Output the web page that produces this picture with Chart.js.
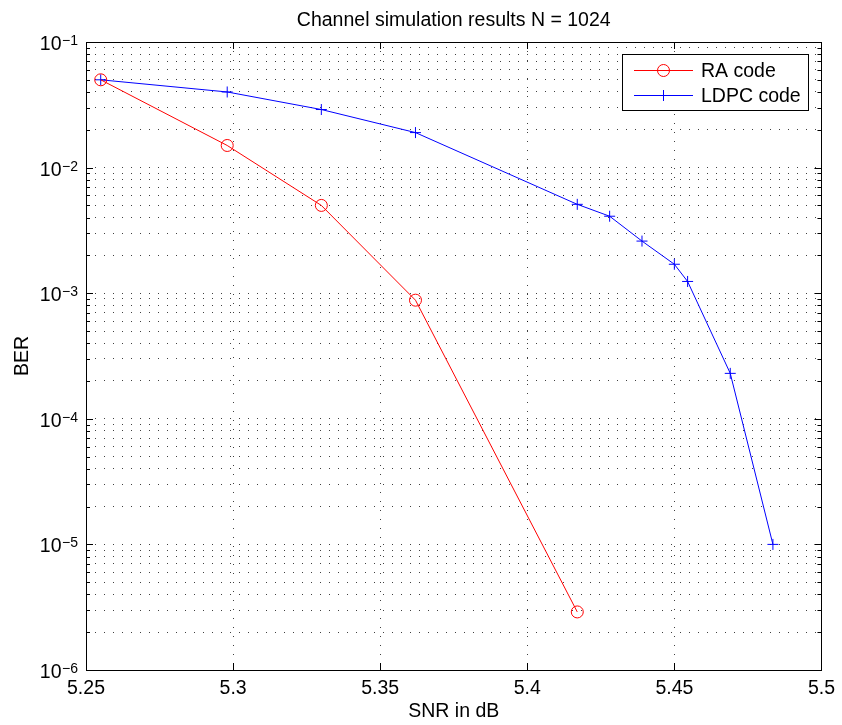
<!DOCTYPE html>
<html>
<head>
<meta charset="utf-8">
<script src="https://cdn.jsdelivr.net/npm/chart.js@4/dist/chart.umd.min.js"></script>
<style>
  html, body { margin: 0; padding: 0; background: #fff; }
  #wrap { width: 842px; height: 725px; }
</style>
</head>
<body>
<div id="wrap"><canvas id="berChart"></canvas></div>
<script>
// values
const raSnr = [5.255, 5.298, 5.330, 5.362, 5.417];
const raBer = [0.05, 0.015, 0.005, 0.00088, 2.9e-6];
const ldpcSnr = [5.255, 5.298, 5.330, 5.362, 5.417, 5.428, 5.439, 5.450, 5.4545, 5.469, 5.4835];
const ldpcBer = [0.05, 0.04, 0.029, 0.019, 0.0051, 0.0041, 0.0026, 0.0017, 0.00124, 0.00023, 1.0e-5];
const xTicks = [5.25, 5.3, 5.35, 5.4, 5.45, 5.5];
const yDecades = [-6, -5, -4, -3, -2, -1];

const FONT = '"Liberation Sans", Arial, Helvetica, sans-serif';
const FS = 19.5;

// every 1..9 x 10^k for the dotted minor grid
const yGridValues = [];
yDecades.forEach((e) => {
    if (e === -1) { yGridValues.push(0.1); return; }
    for (let m = 1; m <= 9; m++) yGridValues.push(+(m * Math.pow(10, e)).toPrecision(3));
});

const toPoints = (xs, ys) => xs.map((x, i) => ({ x, y: ys[i] }));

const decorPlugin = {
    id: 'matlabDecor',
    afterDatasetsDraw(chart) {
        const { ctx, chartArea: a, scales } = chart;
        const xs = scales.x, ys = scales.y;
        ctx.save();

        // inside tick marks
        ctx.strokeStyle = '#000';
        ctx.lineWidth = 1;
        ctx.beginPath();
        xTicks.forEach((v) => {
            const px = Math.round(xs.getPixelForValue(v)) + 0.5;
            ctx.moveTo(px, a.bottom); ctx.lineTo(px, a.bottom - 7);
            ctx.moveTo(px, a.top); ctx.lineTo(px, a.top + 7);
        });
        yGridValues.forEach((v) => {
            const py = Math.round(ys.getPixelForValue(v)) + 0.5;
            const major = Math.abs(Math.log10(v) - Math.round(Math.log10(v))) < 1e-6;
            const len = major ? 7 : 4;
            ctx.moveTo(a.left, py); ctx.lineTo(a.left + len, py);
            ctx.moveTo(a.right, py); ctx.lineTo(a.right - len, py);
        });
        ctx.stroke();

        // axes box
        ctx.strokeRect(Math.round(a.left) + 0.5, Math.round(a.top) + 0.5,
            Math.round(a.right - a.left), Math.round(a.bottom - a.top));

        // y tick labels 10^k
        ctx.fillStyle = '#000';
        ctx.textBaseline = 'alphabetic';
        yDecades.forEach((e) => {
            const py = ys.getPixelForValue(Math.pow(10, e));
            const exp = '\u2212' + Math.abs(e);
            ctx.font = '14px ' + FONT;
            const ew = ctx.measureText(exp).width;
            ctx.textAlign = 'right';
            ctx.fillText(exp, 78, py + 3);
            ctx.font = FS + 'px ' + FONT;
            ctx.fillText('10', 78 - ew - 0.5, py + 8);
        });

        // title and axis labels
        ctx.font = FS + 'px ' + FONT;
        ctx.textAlign = 'center';
        const cx = (a.left + a.right) / 2;
        ctx.fillText('Channel simulation results N = 1024', cx, 26);
        ctx.fillText('SNR in dB', cx, 717);
        ctx.save();
        ctx.translate(28, (a.top + a.bottom) / 2);
        ctx.rotate(-Math.PI / 2);
        ctx.fillText('BER', 0, 0);
        ctx.restore();

        // legend
        const lx = 622, ly = 54, lw = 186, lh = 56;
        ctx.fillStyle = '#fff';
        ctx.fillRect(lx, ly, lw, lh);
        ctx.strokeStyle = '#000';
        ctx.strokeRect(lx + 0.5, ly + 0.5, lw, lh);
        const entries = [
            { label: 'RA code', color: '#ff0000', marker: 'circle', y: 70.5 },
            { label: 'LDPC code', color: '#0000ff', marker: 'cross', y: 95.5 },
        ];
        entries.forEach((en) => {
            ctx.strokeStyle = en.color;
            ctx.lineWidth = 1;
            ctx.beginPath();
            ctx.moveTo(634, en.y); ctx.lineTo(693, en.y);
            ctx.stroke();
            ctx.beginPath();
            if (en.marker === 'circle') {
                ctx.arc(663.5, en.y, 6, 0, Math.PI * 2);
            } else {
                ctx.moveTo(663.5, en.y - 5.5); ctx.lineTo(663.5, en.y + 5.5);
                ctx.moveTo(658, en.y); ctx.lineTo(669, en.y);
            }
            ctx.stroke();
            ctx.fillStyle = '#000';
            ctx.textAlign = 'left';
            ctx.textBaseline = 'middle';
            ctx.font = FS + 'px ' + FONT;
            ctx.fillText(en.label, 701, en.y + 1);
        });

        ctx.restore();
    },
};

new Chart(document.getElementById('berChart'), {
    type: 'line',
    data: {
        datasets: [
            {
                label: 'RA code',
                data: toPoints(raSnr, raBer),
                borderColor: '#ff0000',
                borderWidth: 1,
                backgroundColor: 'rgba(0,0,0,0)',
                pointStyle: 'circle',
                pointRadius: 6,
                pointBorderWidth: 1,
                pointBorderColor: '#ff0000',
                pointBackgroundColor: 'rgba(0,0,0,0)',
                tension: 0,
            },
            {
                label: 'LDPC code',
                data: toPoints(ldpcSnr, ldpcBer),
                borderColor: '#0000ff',
                borderWidth: 1,
                backgroundColor: 'rgba(0,0,0,0)',
                pointStyle: 'cross',
                pointRadius: 5.5,
                pointBorderWidth: 1,
                pointBorderColor: '#0000ff',
                tension: 0,
            },
        ],
    },
    options: {
        responsive: true,
        maintainAspectRatio: false,
        animation: false,
        devicePixelRatio: 1,
        layout: { padding: { top: 42, right: 18, left: 0, bottom: 0 } },
        plugins: { legend: { display: false }, title: { display: false }, tooltip: { enabled: false } },
        scales: {
            x: {
                type: 'linear',
                min: 5.25,
                max: 5.5,
                afterBuildTicks: (s) => { s.ticks = xTicks.map((v) => ({ value: v })); },
                afterFit: (s) => { s.height = 55; },
                grid: { color: 'rgba(0,0,0,0.75)', lineWidth: 1, drawTicks: false },
                border: { display: false, dash: [1, 8] },
                ticks: {
                    color: '#000',
                    font: { family: FONT, size: FS },
                    padding: 7,
                    maxRotation: 0,
                    autoSkip: false,
                    callback: (v) => String(+v.toFixed(2)),
                },
            },
            y: {
                type: 'logarithmic',
                min: 1e-6,
                max: 1e-1,
                afterBuildTicks: (s) => { s.ticks = yGridValues.map((v) => ({ value: v })); },
                afterFit: (s) => { s.width = 86; },
                grid: { color: 'rgba(0,0,0,0.75)', lineWidth: 1, drawTicks: false },
                border: { display: false, dash: [1, 8] },
                ticks: { display: false },
            },
        },
    },
    plugins: [decorPlugin],
});
</script>
</body>
</html>
